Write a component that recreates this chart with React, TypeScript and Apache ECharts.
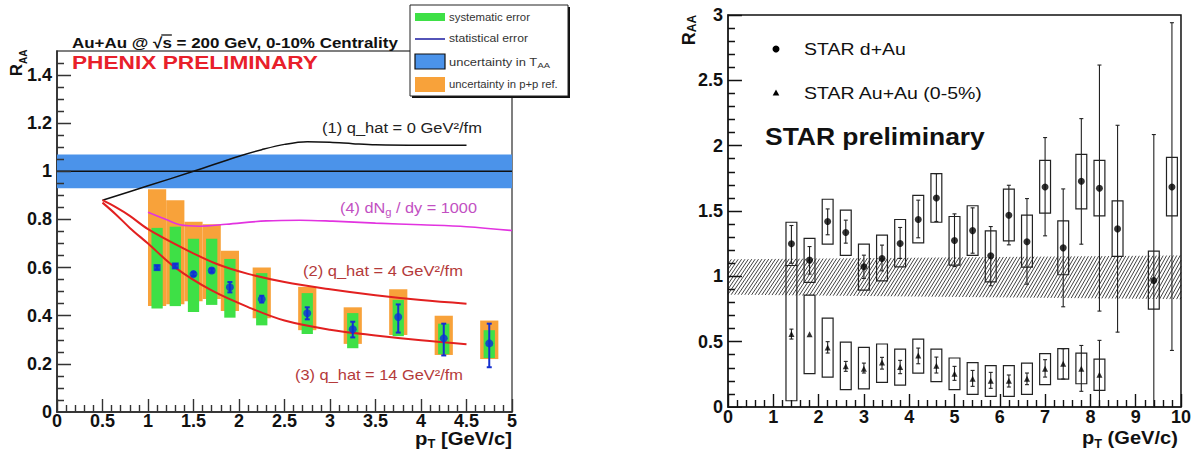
import React, { useEffect, useRef } from "react";
import * as echarts from "echarts";

// ---------------- Left panel: PHENIX ----------------
const phxX = [1.1, 1.3, 1.5, 1.7, 1.9, 2.25, 2.75, 3.25, 3.75, 4.25, 4.75];
const phxY = [0.6, 0.607, 0.573, 0.588, 0.518, 0.469, 0.41, 0.344, 0.395, 0.306, 0.285];
const phxStatLo = [0.592, 0.599, 0.565, 0.58, 0.497, 0.455, 0.385, 0.31, 0.33, 0.235, 0.186];
const phxStatHi = [0.608, 0.615, 0.581, 0.596, 0.54, 0.483, 0.435, 0.375, 0.447, 0.367, 0.367];
const phxSysLo = [0.43, 0.44, 0.415, 0.445, 0.392, 0.36, 0.324, 0.265, 0.315, 0.24, 0.224];
const phxSysHi = [0.765, 0.77, 0.72, 0.72, 0.636, 0.577, 0.494, 0.411, 0.466, 0.367, 0.34];
const phxRefLo = [0.44, 0.448, 0.46, 0.47, 0.42, 0.39, 0.34, 0.283, 0.32, 0.237, 0.22];
const phxRefHi = [0.926, 0.88, 0.79, 0.78, 0.67, 0.6, 0.52, 0.435, 0.51, 0.4, 0.38];

const tAABand = [0.93, 1.07];

const curve1X = [0.5, 1.0, 1.5, 2.0, 2.25, 2.5, 2.75, 3.0, 3.25, 3.5, 4.0, 4.5];
const curve1Y = [0.88, 0.94, 1.0, 1.063, 1.09, 1.112, 1.123, 1.121, 1.115, 1.11, 1.108, 1.108];
const curve4X = [1.0, 1.2, 1.35, 1.57, 1.86, 2.3, 2.67, 3.03, 3.5, 4.0, 4.5, 5.0];
const curve4Y = [0.83, 0.8, 0.778, 0.772, 0.78, 0.794, 0.797, 0.793, 0.785, 0.778, 0.77, 0.754];
const curve2X = [0.5, 0.65, 0.8, 1.0, 1.4, 1.75, 2.1, 2.5, 3.0, 3.5, 4.0, 4.5];
const curve2Y = [0.88, 0.85, 0.815, 0.76, 0.678, 0.616, 0.574, 0.54, 0.51, 0.485, 0.465, 0.45];
const curve3X = [0.5, 0.65, 0.8, 1.0, 1.3, 1.7, 2.1, 2.5, 3.0, 3.5, 4.0, 4.5];
const curve3Y = [0.87, 0.82, 0.765, 0.7, 0.6, 0.505, 0.436, 0.38, 0.342, 0.318, 0.298, 0.282];

// axis ticks (left panel)
const leftXMajor = [0, 0.5, 1, 1.5, 2, 2.5, 3, 3.5, 4, 4.5, 5];
const leftYMajor = [0, 0.2, 0.4, 0.6, 0.8, 1.0, 1.2, 1.4];

// ---------------- Right panel: STAR ----------------
const dAuX = [1.4, 1.8, 2.2, 2.6, 3.0, 3.4, 3.8, 4.2, 4.6, 5.0, 5.4, 5.8, 6.2, 6.6, 7.0, 7.4, 7.8, 8.2, 8.6, 9.4, 9.8];
const dAuY = [1.249, 1.124, 1.42, 1.335, 1.073, 1.137, 1.251, 1.435, 1.6, 1.274, 1.35, 1.157, 1.468, 1.264, 1.684, 1.218, 1.728, 1.674, 1.363, 0.968, 1.684];
const dAuStatLo = [1.1, 1.017, 1.318, 1.254, 0.984, 1.042, 1.137, 1.295, 1.42, 1.075, 1.177, 0.928, 1.241, 0.94, 1.31, 0.767, 1.246, 0.734, 0.573, 0, 0.433];
const dAuStatHi = [1.389, 1.228, 1.516, 1.43, 1.162, 1.239, 1.374, 1.583, 1.786, 1.478, 1.524, 1.381, 1.697, 1.595, 2.062, 1.669, 2.207, 2.617, 2.156, 2.085, 2.941];
const dAuSysLo = [1.083, 0.953, 1.246, 1.16, 0.894, 0.966, 1.073, 1.256, 1.414, 1.086, 1.16, 0.958, 1.272, 1.07, 1.483, 1.012, 1.516, 1.463, 1.152, 0.749, 1.463];
const dAuSysHi = [1.414, 1.29, 1.59, 1.506, 1.246, 1.315, 1.435, 1.62, 1.786, 1.458, 1.54, 1.348, 1.667, 1.468, 1.888, 1.425, 1.934, 1.888, 1.577, 1.193, 1.911];

const auX = [1.4, 1.8, 2.2, 2.6, 3.0, 3.4, 3.8, 4.2, 4.6, 5.0, 5.4, 5.8, 6.2, 6.6, 7.0, 7.4, 7.8, 8.2];
const auY = [0.558, 0.556, 0.456, 0.311, 0.293, 0.341, 0.306, 0.395, 0.316, 0.255, 0.217, 0.2, 0.2, 0.217, 0.293, 0.331, 0.293, 0.247];
const auStatLo = [0.52, 0.556, 0.413, 0.273, 0.26, 0.29, 0.255, 0.331, 0.26, 0.204, 0.158, 0.143, 0.153, 0.171, 0.229, 0.214, 0.12, 0];
const auStatHi = [0.596, 0.556, 0.5, 0.349, 0.336, 0.38, 0.357, 0.451, 0.382, 0.311, 0.28, 0.265, 0.245, 0.26, 0.362, 0.446, 0.471, 0.51];
const auSysLo = [0.048, 0.255, 0.229, 0.133, 0.138, 0.189, 0.168, 0.26, 0.194, 0.133, 0.097, 0.082, 0.082, 0.097, 0.171, 0.214, 0.178, 0.127];
const auSysHi = [1.083, 0.856, 0.68, 0.497, 0.456, 0.482, 0.443, 0.52, 0.443, 0.375, 0.339, 0.316, 0.316, 0.336, 0.408, 0.446, 0.413, 0.367];

const normBandX = [0, 10];
const normBandLo = [0.86, 0.825];
const normBandHi = [1.13, 1.16];

// axis ticks (right panel)
const rightXMajor = [0, 1, 2, 3, 4, 5, 6, 7, 8, 9, 10];
const rightYMajor = [0, 0.5, 1, 1.5, 2, 2.5, 3];

const FF = '"Liberation Sans", Arial, Helvetica, sans-serif';

const minors = (major: number[], sub: number, max: number) => {
  const out: number[] = [];
  const step = (major[1] - major[0]) / sub;
  for (let i = 0; i < major.length; i++) {
    for (let k = 1; k < sub; k++) {
      const v = major[i] + k * step;
      if (v < max - 1e-9) out.push(+v.toFixed(4));
    }
  }
  return out;
};

// tick segments for a "lines" series (lengths in axis units)
const tickLines = (xMaj: number[], xMin: number[], yMaj: number[], yMin: number[], lx: number[], ly: number[]) => {
  const out: any[] = [];
  xMaj.forEach((v) => out.push({ coords: [[v, 0], [v, lx[0]]] }));
  xMin.forEach((v) => out.push({ coords: [[v, 0], [v, lx[1]]] }));
  yMaj.forEach((v) => out.push({ coords: [[0, v], [ly[0], v]] }));
  yMin.forEach((v) => out.push({ coords: [[0, v], [ly[1], v]] }));
  return out;
};

export default function App() {
  const ref = useRef<HTMLDivElement>(null);

  useEffect(() => {
    if (!ref.current) return;
    const chart = echarts.init(ref.current, undefined, { renderer: "svg" });
    const ctx = document.createElement("canvas").getContext("2d")!;
    const tw = (t: string, size: number, weight = "normal") => {
      ctx.font = `${weight} ${size}px ${FF}`;
      return ctx.measureText(t).width;
    };
    type Seg = { t: string; size: number; weight?: string; dy?: number; fill?: string };
    const run = (x: number, y: number, segs: Seg[], fill: string, extra: any = {}, center = false, target = 0) => {
      let cx = 0;
      const widths = segs.map((s) => tw(s.t, s.size, s.weight || "normal"));
      const total = widths.reduce((a, b) => a + b, 0);
      if (center) cx = -total / 2;
      const children: any[] = [];
      segs.forEach((s, i) => {
        children.push({
          type: "text",
          x: cx,
          y: s.dy || 0,
          style: {
            text: s.t,
            fontSize: s.size,
            fontWeight: s.weight || "normal",
            fontFamily: FF,
            fill: s.fill || fill,
            align: "left",
            verticalAlign: "middle",
          },
        });
        cx += widths[i];
      });
      const sc = target > 0 ? target / total : 1;
      return { type: "group", x, y, scaleX: sc, children, ...extra };
    };

    const boxSeries = (xi: number, xs: number[], lo: number[], hi: number[], hw: number, style: any) => ({
      type: "custom",
      xAxisIndex: xi,
      yAxisIndex: xi,
      silent: true,
      data: xs.map((x, i) => [x, lo[i], hi[i]]),
      encode: { x: 0, y: [1, 2] },
      renderItem: (_p: any, api: any) => {
        const x = api.value(0), l = api.value(1), h = api.value(2);
        const p1 = api.coord([x - hw, h]);
        const p2 = api.coord([x + hw, l]);
        return {
          type: "rect",
          shape: { x: p1[0], y: p1[1], width: p2[0] - p1[0], height: p2[1] - p1[1] },
          style,
        };
      },
    });

    const errSeries = (xi: number, xs: number[], lo: number[], hi: number[], cap: number, color: string, lw: number) => ({
      type: "custom",
      xAxisIndex: xi,
      yAxisIndex: xi,
      silent: true,
      data: xs.map((x, i) => [x, lo[i], hi[i]]),
      encode: { x: 0, y: [1, 2] },
      renderItem: (_p: any, api: any) => {
        const x = api.value(0), l = api.value(1), h = api.value(2);
        const a = api.coord([x, h]);
        const b = api.coord([x, l]);
        const st = { stroke: color, lineWidth: lw };
        if (Math.abs(a[1] - b[1]) < 0.5) return { type: "group", children: [] };
        return {
          type: "group",
          children: [
            { type: "line", shape: { x1: a[0], y1: a[1], x2: b[0], y2: b[1] }, style: st },
            { type: "line", shape: { x1: a[0] - cap, y1: a[1], x2: a[0] + cap, y2: a[1] }, style: st },
            { type: "line", shape: { x1: b[0] - cap, y1: b[1], x2: b[0] + cap, y2: b[1] }, style: st },
          ],
        };
      },
    });

    const curve = (xs: number[], ys: number[], color: string, width: number) => ({
      type: "line",
      xAxisIndex: 0,
      yAxisIndex: 0,
      silent: true,
      symbol: "none",
      smooth: 0.35,
      data: xs.map((x, i) => [x, ys[i]]),
      lineStyle: { color, width },
      z: 3,
    });

    const ac = {
      type: "value",
      splitLine: { show: false },
      axisLine: { show: true, onZero: false, lineStyle: { color: "#222", width: 1.5 } },
      axisTick: { show: false },
      minorTick: { show: false },
      axisLabel: { fontSize: 18, fontWeight: "bold", fontFamily: FF, color: "#111" },
    };

    const option: any = {
      animation: false,
      grid: [
        { left: 57, top: 51, width: 455, height: 361, show: true, borderColor: "#555", borderWidth: 1.5, backgroundColor: "transparent" },
        { left: 728, top: 15, width: 454, height: 392, show: true, borderColor: "#111", borderWidth: 1.5, backgroundColor: "transparent" },
      ],
      xAxis: [
        { ...ac, gridIndex: 0, min: 0, max: 5, interval: 0.5, axisLabel: { ...ac.axisLabel, margin: 0 } },
        { ...ac, gridIndex: 1, min: 0, max: 10, interval: 1, axisLabel: { ...ac.axisLabel, margin: 1 } },
      ],
      yAxis: [
        { ...ac, gridIndex: 0, min: 0, max: 1.5, interval: 0.2, axisLabel: { ...ac.axisLabel, margin: 5, showMaxLabel: false } },
        { ...ac, gridIndex: 1, min: 0, max: 3, interval: 0.5, axisLabel: { ...ac.axisLabel, margin: 5 } },
      ],
      series: [
        {
          type: "custom",
          xAxisIndex: 0,
          yAxisIndex: 0,
          silent: true,
          data: [[0, 5, tAABand[0], tAABand[1]]],
          encode: { x: [0, 1], y: [2, 3] },
          renderItem: (_p: any, api: any) => {
            const p1 = api.coord([api.value(0), api.value(3)]);
            const p2 = api.coord([api.value(1), api.value(2)]);
            return { type: "rect", shape: { x: p1[0], y: p1[1], width: p2[0] - p1[0], height: p2[1] - p1[1] }, style: { fill: "#4b93ea" } };
          },
          z: 1,
        },
        {
          type: "line",
          xAxisIndex: 0,
          yAxisIndex: 0,
          silent: true,
          symbol: "none",
          data: [[0, 1], [5, 1]],
          lineStyle: { color: "#111", width: 1.5 },
          z: 2,
        },
        boxSeries(0, phxX, phxRefLo, phxRefHi, 0.1, { fill: "#f8a23a" }),
        boxSeries(0, phxX, phxSysLo, phxSysHi, 0.062, { fill: "#3ee046" }),
        curve(curve1X, curve1Y, "#111", 1.5),
        curve(curve4X, curve4Y, "#e233e0", 1.6),
        curve(curve2X, curve2Y, "#e22020", 2),
        curve(curve3X, curve3Y, "#e22020", 2),
        { ...errSeries(0, phxX, phxStatLo, phxStatHi, 2.5, "#1530d0", 2), z: 4 },
        {
          type: "scatter",
          xAxisIndex: 0,
          yAxisIndex: 0,
          silent: true,
          z: 5,
          data: phxX.map((x, i) =>
            i < 2 ? { value: [x, phxY[i]], symbol: "rect", symbolSize: 7 } : { value: [x, phxY[i]], symbol: "circle", symbolSize: 8 }
          ),
          itemStyle: { color: "#0d2fd8" },
        },
        {
          type: "lines",
          coordinateSystem: "cartesian2d",
          xAxisIndex: 0,
          yAxisIndex: 0,
          silent: true,
          z: 10,
          polyline: false,
          data: tickLines(leftXMajor, minors(leftXMajor, 5, 5), leftYMajor, minors(leftYMajor, 4, 1.5), [0.054, 0.029], [0.154, 0.077]),
          lineStyle: { color: "#333", width: 1.4, opacity: 1 },
        },
        {
          type: "custom",
          xAxisIndex: 1,
          yAxisIndex: 1,
          silent: true,
          data: [[normBandX[0], normBandLo[0], normBandHi[0], normBandX[1], normBandLo[1], normBandHi[1]]],
          encode: { x: [0, 3], y: [1, 2] },
          renderItem: (_p: any, api: any) => {
            const A = api.coord([api.value(0), api.value(1)]);
            const B = api.coord([api.value(3), api.value(4)]);
            const C = api.coord([api.value(3), api.value(5)]);
            const D = api.coord([api.value(0), api.value(2)]);
            const X0 = A[0], X1 = B[0];
            const yb = (px: number) => A[1] + ((B[1] - A[1]) * (px - X0)) / (X1 - X0);
            const yt = (px: number) => D[1] + ((C[1] - D[1]) * (px - X0)) / (X1 - X0);
            const dx = 24;
            const step = 3.4;
            const children: any[] = [];
            for (let px = X0 - dx; px <= X1; px += step) {
              let x1 = px, y1 = yb(px), x2 = px + dx, y2 = yt(px + dx);
              const ox1 = x1, oy1 = y1, ox2 = x2, oy2 = y2;
              if (x1 < X0) {
                const t = (X0 - ox1) / (ox2 - ox1);
                x1 = X0;
                y1 = oy1 + t * (oy2 - oy1);
              }
              if (x2 > X1) {
                const t = (X1 - ox1) / (ox2 - ox1);
                x2 = X1;
                y2 = oy1 + t * (oy2 - oy1);
              }
              if (x2 <= x1) continue;
              children.push({ type: "line", shape: { x1, y1, x2, y2 }, style: { stroke: "#111", lineWidth: 0.8 } });
            }
            return { type: "group", children };
          },
          z: 1,
        },
        boxSeries(1, dAuX, dAuSysLo, dAuSysHi, 0.12, { fill: "none", stroke: "#222", lineWidth: 1.2 }),
        boxSeries(1, auX, auSysLo, auSysHi, 0.12, { fill: "none", stroke: "#222", lineWidth: 1.2 }),
        { ...errSeries(1, dAuX, dAuStatLo, dAuStatHi, 2, "#222", 1.1), z: 3 },
        { ...errSeries(1, auX, auStatLo, auStatHi, 2, "#222", 1.1), z: 3 },
        {
          type: "scatter",
          xAxisIndex: 1,
          yAxisIndex: 1,
          silent: true,
          z: 4,
          symbol: "circle",
          symbolSize: 7,
          data: dAuX.map((x, i) => [x, dAuY[i]]),
          itemStyle: { color: "#000" },
        },
        {
          type: "scatter",
          xAxisIndex: 1,
          yAxisIndex: 1,
          silent: true,
          z: 4,
          symbol: "triangle",
          symbolSize: 6,
          data: auX.map((x, i) => [x, auY[i]]),
          itemStyle: { color: "#000" },
        },
        {
          type: "lines",
          coordinateSystem: "cartesian2d",
          xAxisIndex: 1,
          yAxisIndex: 1,
          silent: true,
          z: 10,
          polyline: false,
          data: tickLines(rightXMajor, minors(rightXMajor, 5, 10), rightYMajor, minors(rightYMajor, 5, 3), [0.1, 0.054], [0.308, 0.154]),
          lineStyle: { color: "#111", width: 1.4, opacity: 1 },
        },
      ],
      graphic: [] as any[],
    };

    const titleSegs: Seg[] = [
      { t: "Au+Au @ ", size: 15, weight: "bold" },
      { t: "\u221As", size: 15, weight: "bold" },
      { t: " = 200 GeV, 0-10% Centrality", size: 15, weight: "bold" },
    ];
    const titleTotal = titleSegs.reduce((a, s) => a + tw(s.t, s.size, s.weight), 0);
    const titleSc = 326 / titleTotal;
    const sqStart = tw("Au+Au @ ", 15, "bold") + tw("\u221A", 15, "bold") - 1;
    const sqEnd = tw("Au+Au @ ", 15, "bold") + tw("\u221As", 15, "bold");

    const graphics: any[] = [
      run(72, 43, titleSegs, "#111", { z: 50 }, false, 326),
      {
        type: "line",
        z: 50,
        shape: { x1: 72 + titleSc * sqStart, y1: 35, x2: 72 + titleSc * sqEnd, y2: 35 },
        style: { stroke: "#111", lineWidth: 1.3 },
      },
      run(72, 62, [{ t: "PHENIX PRELIMINARY", size: 19, weight: "bold" }], "#e8202a", { z: 50 }, false, 246),
      run(322, 128, [{ t: "(1) q_hat = 0 GeV\u00B2/fm", size: 14.5 }], "#222", { z: 50 }, false, 160),
      run(340, 208, [
        { t: "(4) dN", size: 14.5 },
        { t: "g", size: 10, dy: 4 },
        { t: " / dy = 1000", size: 14.5 },
      ], "#c24fc2", { z: 50 }, false, 137),
      run(303, 271, [{ t: "(2) q_hat = 4 GeV\u00B2/fm", size: 14.5 }], "#b43a3a", { z: 50 }, false, 160),
      run(295, 375, [{ t: "(3) q_hat = 14 GeV\u00B2/fm", size: 14.5 }], "#b43a3a", { z: 50 }, false, 168),
      run(16, 63, [
        { t: "R", size: 17, weight: "bold" },
        { t: "AA", size: 10, weight: "bold", dy: 7 },
      ], "#111", { rotation: Math.PI / 2, z: 50 }, true),
      run(415, 438, [
        { t: "p", size: 19, weight: "bold" },
        { t: "T", size: 12, weight: "bold", dy: 6 },
        { t: " [GeV/c]", size: 19, weight: "bold" },
      ], "#111", { z: 50 }, false, 97),
      {
        type: "group",
        z: 60,
        children: [
          { type: "rect", shape: { x: 412, y: 7, width: 158, height: 91 }, style: { fill: "#111" } },
          { type: "rect", shape: { x: 410, y: 5, width: 158, height: 91 }, style: { fill: "#fff", stroke: "#222", lineWidth: 1 } },
          { type: "rect", shape: { x: 415, y: 13, width: 30, height: 8 }, style: { fill: "#3ee046" } },
          { type: "line", shape: { x1: 415, y1: 39, x2: 445, y2: 39 }, style: { stroke: "#1a1aa0", lineWidth: 1.5 } },
          { type: "rect", shape: { x: 415, y: 54, width: 30, height: 15 }, style: { fill: "#4b93ea", stroke: "#111", lineWidth: 1.2 } },
          { type: "rect", shape: { x: 415, y: 77, width: 30, height: 15 }, style: { fill: "#f8a23a" } },
        ],
      },
      run(449, 17, [{ t: "systematic error", size: 11 }], "#333", { z: 61 }, false, 81),
      run(449, 38, [{ t: "statistical error", size: 11 }], "#333", { z: 61 }, false, 79),
      run(449, 62, [
        { t: "uncertainty in T", size: 11 },
        { t: "AA", size: 8, dy: 3 },
      ], "#333", { z: 61 }, false, 101),
      run(449, 84, [{ t: "uncertainty in p+p ref.", size: 11 }], "#333", { z: 61 }, false, 109),
      run(689, 30, [
        { t: "R", size: 18, weight: "bold" },
        { t: "AA", size: 12, weight: "bold", dy: 3 },
      ], "#111", { rotation: Math.PI / 2, z: 50 }, true),
      run(1082, 437, [
        { t: "p", size: 19, weight: "bold" },
        { t: "T", size: 12, weight: "bold", dy: 7 },
        { t: " (GeV/c)", size: 19, weight: "bold" },
      ], "#111", { z: 50 }, false, 96),
      { type: "circle", z: 50, shape: { cx: 776, cy: 49, r: 3.5 }, style: { fill: "#000" } },
      { type: "polygon", z: 50, shape: { points: [[776, 89.5], [772.7, 95.5], [779.3, 95.5]] }, style: { fill: "#000" } },
      run(804, 49, [{ t: "STAR d+Au", size: 17 }], "#111", { z: 50 }, false, 102),
      run(804, 93, [{ t: "STAR Au+Au (0-5%)", size: 17 }], "#111", { z: 50 }, false, 179),
      run(765, 137, [{ t: "STAR preliminary", size: 23, weight: "bold" }], "#111", { z: 50 }, false, 220),
    ];
    option.graphic = graphics;
    chart.setOption(option);

    return () => chart.dispose();
  }, []);

  return (
    <div
      ref={ref}
      style={{ position: "fixed", left: 0, top: 0, width: 1194, height: 453, background: "#fff" }}
    />
  );
}
